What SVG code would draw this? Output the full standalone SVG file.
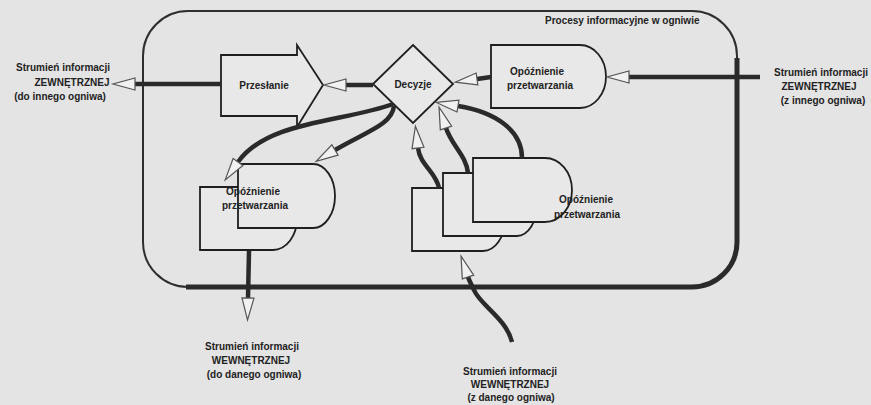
<svg xmlns="http://www.w3.org/2000/svg" width="871" height="405" viewBox="0 0 871 405">
  <style>
    .node { fill: #e8e8e8; stroke: #1f1f1f; stroke-width: 1.8; stroke-linejoin: miter; }
    .flow { fill: none; stroke: #2a2a2a; stroke-width: 4.5; stroke-linecap: butt; marker-end: url(#hollow); }
    .frame { fill: none; stroke: #2e2e2e; stroke-width: 2; }
    .frame-shadow { fill: none; stroke: #2a2a2a; stroke-width: 5; }
    text { font-family: "Liberation Sans", Arial, sans-serif; font-size: 10px; font-weight: bold; fill: #222; }
    .c { text-anchor: middle; }
  </style>
  <defs>
    <marker id="hollow" markerUnits="userSpaceOnUse" markerWidth="28" markerHeight="20" refX="1" refY="9" orient="auto">
      <path d="M1,3 L23,9 L1,15 Z" fill="#f1f1f1" stroke="#555" stroke-width="1.2"/>
    </marker>
  </defs>

  <rect width="871" height="405" fill="#e4e4e4"/>

  <!-- boundary of the cell: thin top/left edge, heavy right/bottom edge -->
  <g id="boundary">
    <path class="frame" d="M143,242 V56 A45,45 0 0 1 188,11 H692 A45,45 0 0 1 737,56 V242 A45,45 0 0 1 692,287 H188 A45,45 0 0 1 143,242 Z"/>
    <path class="frame-shadow" d="M737,58 V242 A45,45 0 0 1 692,287 H186"/>
    <text x="545" y="24">Procesy informacyjne w ogniwie</text>
  </g>

  <g id="przeslanie">
    <polygon class="node" points="221,55 297,55 297,45 323,85 297,127 297,116 221,116"/>
    <text class="c" x="264" y="89">Przesłanie</text>
  </g>

  <g id="decyzje">
    <polygon class="node" points="413,45 453,84 413,123 373,84"/>
    <text class="c" x="413" y="88">Decyzje</text>
  </g>

  <g id="opoznienie-zewn">
    <path class="node" d="M491,45 H580 A26,31.5 0 0 1 580,108 H491 Z"/>
    <text class="c" x="537" y="75">Opóźnienie</text>
    <text class="c" x="540" y="89">przetwarzania</text>
  </g>

  <g id="opoznienie-wyj">
    <path class="node" d="M200,187 H273 A24,31.5 0 0 1 273,250 H200 Z"/>
    <path class="node" d="M238,164 H313 A22,32 0 0 1 313,228 H238 Z"/>
    <text class="c" x="253" y="195">Opóźnienie</text>
    <text class="c" x="255" y="209">przetwarzania</text>
  </g>

  <g id="opoznienie-wej">
    <path class="node" d="M412,188 H483 A22,31.5 0 0 1 483,251 H412 Z"/>
    <path class="node" d="M443,173 H517 A20,31.5 0 0 1 517,236 H443 Z"/>
    <path class="node" d="M473,158 H545 A27,32 0 0 1 545,222 H473 Z"/>
    <text class="c" x="586" y="203">Opóźnienie</text>
    <text class="c" x="587" y="218">przetwarzania</text>
  </g>

  <g id="connectors">
    <path class="flow" d="M221,84 L135,84"/>
    <path class="flow" d="M373,85 L346,85"/>
    <path class="flow" d="M491,77 L477,79"/>
    <path class="flow" d="M760,77 L629,77"/>
    <path class="flow" d="M249,251 L248,298"/>
    <path class="flow" d="M393,104 C345,122 268,120 238,162"/>
    <path class="flow" d="M394,106 C392,125 365,132 335,150"/>
    <path class="flow" d="M439,188 C436,172 420,165 418,148"/>
    <path class="flow" d="M468,173 C466,155 452,146 446,128"/>
    <path class="flow" d="M522,158 C522,130 495,112 458,106"/>
    <path class="flow" d="M512,342 C506,318 480,305 474,290 C471,284 469,280 468,277"/>
  </g>

  <g id="labels">
    <text class="c" x="63" y="71">Strumień informacji</text>
    <text class="c" x="72" y="86">ZEWNĘTRZNEJ</text>
    <text class="c" x="60" y="100">(do  innego ogniwa)</text>

    <text class="c" x="821" y="76">Strumień informacji</text>
    <text class="c" x="819" y="90">ZEWNĘTRZNEJ</text>
    <text class="c" x="823" y="104">(z innego ogniwa)</text>

    <text class="c" x="252" y="350">Strumień informacji</text>
    <text class="c" x="251" y="364">WEWNĘTRZNEJ</text>
    <text class="c" x="254" y="378">(do danego ogniwa)</text>

    <text class="c" x="510" y="375">Strumień informacji</text>
    <text class="c" x="510" y="388">WEWNĘTRZNEJ</text>
    <text class="c" x="511" y="401">(z danego ogniwa)</text>
  </g>
</svg>
